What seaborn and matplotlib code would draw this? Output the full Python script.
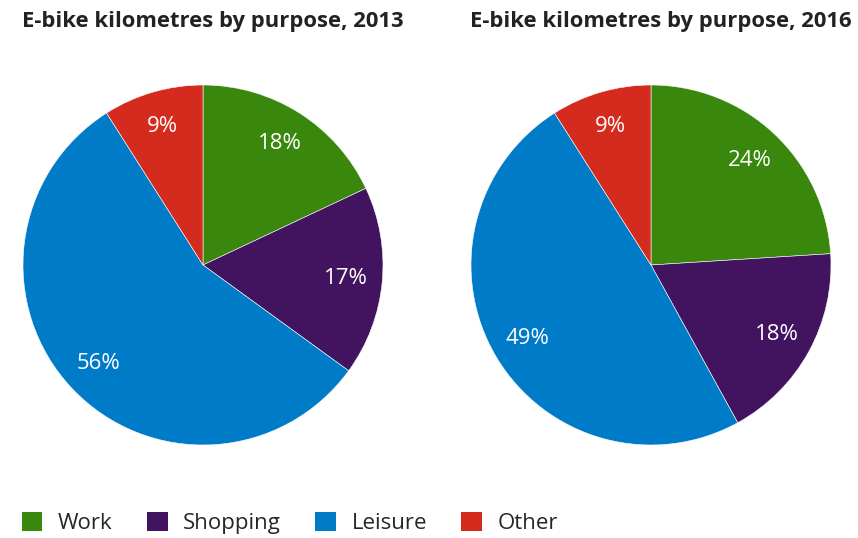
import matplotlib
matplotlib.use("Agg")
import matplotlib.pyplot as plt
import seaborn as sns
from matplotlib.patches import Patch

sns.set_theme(style="white")
plt.rcParams["font.family"] = ["Open Sans", "DejaVu Sans"]

purposes = ["Work", "Shopping", "Leisure", "Other"]
share_2013 = [18, 17, 56, 9]
share_2016 = [24, 18, 49, 9]
years = ["2013", "2016"]
colors = ["#39870c", "#42145f", "#007bc7", "#d52b1e"]

fig = plt.figure(figsize=(8.58, 5.38), dpi=100)

# pie axes, placed by pixel centres (203, 265) and (651, 265), radius 180
w, h = 360 / 858, 360 / 538
for cx, vals, yr in [(203, share_2013, years[0]), (651, share_2016, years[1])]:
    ax = fig.add_axes([cx / 858 - w / 2, 1 - 265 / 538 - h / 2, w, h])
    ax.pie(vals, colors=colors, startangle=90, counterclock=False,
           autopct="%d%%", pctdistance=0.8, radius=1,
           wedgeprops=dict(edgecolor="white", linewidth=0.4),
           textprops=dict(color="white", fontsize=16))
    ax.set_xlim(-1, 1)
    ax.set_ylim(-1, 1)
    ax.set_aspect("equal")

fig.text(22 / 858, 1 - 22 / 538, "E-bike kilometres by purpose, " + years[0],
         fontsize=15.8, fontweight="bold", color="#222222", va="center")
fig.text(470 / 858, 1 - 22 / 538, "E-bike kilometres by purpose, " + years[1],
         fontsize=15.8, fontweight="bold", color="#222222", va="center")

handles = [Patch(facecolor=c, edgecolor="none") for c in colors]
fig.legend(handles, purposes, loc="center left", bbox_to_anchor=(22 / 858, 1 - 523 / 538),
           ncol=4, frameon=False, fontsize=16, handlelength=0.92, handleheight=0.92,
           handletextpad=0.7, columnspacing=1.55, borderaxespad=0, borderpad=0)

fig.savefig("out.png", dpi=100, facecolor="white")
